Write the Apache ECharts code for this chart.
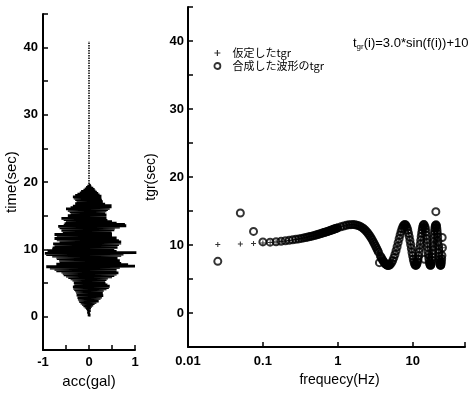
<!DOCTYPE html>
<html><head><meta charset="utf-8">
<script src="https://cdn.jsdelivr.net/npm/echarts@6/dist/echarts.min.js"></script>
<style>html,body{margin:0;padding:0;background:#fff}#c{width:468px;height:394px}</style>
</head><body><div id="c"></div>
<script>
// Left panel: synthesized acceleration (acc in gal vs time in sec)
const accTime = [0,0.1,0.2,0.3,0.4,0.5,0.6,0.7,0.8,0.9,1,1.1,1.2,1.3,1.4,1.5,1.6,1.7,1.8,1.9,
2,2.1,2.2,2.3,2.4,2.5,2.6,2.7,2.8,2.9,3,3.1,3.2,3.3,3.4,3.5,3.6,3.7,3.8,3.9,
4,4.1,4.2,4.3,4.4,4.5,4.6,4.7,4.8,4.9,5,5.1,5.2,5.3,5.4,5.5,5.6,5.7,5.8,5.9,
6,6.1,6.2,6.3,6.4,6.5,6.6,6.7,6.8,6.9,7,7.1,7.2,7.3,7.4,7.5,7.6,7.7,7.8,7.9,
8,8.1,8.2,8.3,8.4,8.5,8.6,8.7,8.8,8.9,9,9.1,9.2,9.3,9.4,9.5,9.6,9.7,9.8,9.9,
10,10.1,10.2,10.3,10.4,10.5,10.6,10.7,10.8,10.9,11,11.1,11.2,11.3,11.4,11.5,11.6,11.7,11.8,11.9,
12,12.1,12.2,12.3,12.4,12.5,12.6,12.7,12.8,12.9,13,13.1,13.2,13.3,13.4,13.5,13.6,13.7,13.8,13.9,
14,14.1,14.2,14.3,14.4,14.5,14.6,14.7,14.8,14.9,15,15.1,15.2,15.3,15.4,15.5,15.6,15.7,15.8,15.9,
16,16.1,16.2,16.3,16.4,16.5,16.6,16.7,16.8,16.9,17,17.1,17.2,17.3,17.4,17.5,17.6,17.7,17.8,17.9,
18,18.1,18.2,18.3,18.4,18.5,18.6,18.7,18.8,18.9,19,19.1,19.2,19.3,19.4,19.5,19.6,19.7];
const accValue = [0,0,-0.005,0.005,-0.01,0.01,-0.015,0.015,-0.02,0.02,
-0.04,0.03,-0.06,0.04,-0.09,0.06,-0.12,0.09,-0.15,0.12,
-0.18,0.16,-0.21,0.21,-0.22,0.2,-0.24,0.25,-0.25,0.28,
-0.25,0.31,-0.27,0.27,-0.26,0.3,-0.28,0.28,-0.3,0.32,
-0.32,0.38,-0.34,0.43,-0.35,0.45,-0.3,0.4,-0.32,0.36,
-0.33,0.35,-0.33,0.35,-0.36,0.38,-0.4,0.41,-0.45,0.5,
-0.5,0.55,-0.55,0.6,-0.57,0.64,-0.6,0.6,-0.71,0.56,
-0.75,0.6,-0.85,0.67,-0.93,1.0,-0.7,0.85,-0.71,0.7,
-0.6,0.67,-0.64,0.67,-0.65,0.6,-0.7,0.62,-0.71,0.6,
-0.8,0.7,-0.93,0.75,-0.96,1.03,-0.85,0.6,-0.9,0.5,
-0.8,0.55,-0.79,0.62,-0.75,0.6,-0.7,0.65,-0.78,0.7,
-0.64,0.7,-0.6,0.65,-0.7,0.55,-0.75,0.6,-0.7,0.5,
-0.6,0.45,-0.75,0.5,-0.57,0.49,-0.55,0.45,-0.6,0.55,
-0.6,0.56,-0.64,0.67,-0.67,0.81,-0.55,0.78,-0.53,0.6,
-0.5,0.5,-0.45,0.4,-0.55,0.38,-0.6,0.38,-0.45,0.36,
-0.46,0.38,-0.4,0.35,-0.4,0.35,-0.42,0.38,-0.46,0.41,
-0.5,0.45,-0.4,0.49,-0.35,0.49,-0.3,0.35,-0.3,0.3,
-0.27,0.3,-0.27,0.28,-0.3,0.25,-0.33,0.27,-0.35,0.27,
-0.3,0.23,-0.25,0.2,-0.2,0.17,-0.17,0.14,-0.12,0.12,
-0.09,0.09,-0.06,0.05,-0.03,0.03,-0.01,0.01];
const tailTime = [19.7, 25, 30, 35, 40.96];
const tailValue = [0, 0, 0, 0, 0];

// Right panel: group delay time tgr (sec) vs frequency (Hz)
const freq = [0.025,0.05,0.075,0.1,0.125,0.15,0.175,0.2,0.225,0.25,0.275,0.3,0.325,0.35,0.375,0.4,0.425,0.45,0.475,0.5,
0.525,0.55,0.575,0.6,0.625,0.65,0.675,0.7,0.725,0.75,0.775,0.8,0.825,0.85,0.875,0.9,0.925,0.95,0.975,1.0,
1.1,1.2,1.3,1.4,1.5,1.6,1.7,1.8,1.9,2.0,2.1,2.2,2.3,2.4,2.5,2.6,2.7,2.8,2.9,3.0,
3.1,3.2,3.3,3.4,3.5,3.6,3.7,3.8,3.9,4.0,4.1,4.2,4.3,4.4,4.5,4.6,4.7,4.8,4.9,5.0,
5.2,5.4,5.6,5.8,6.0,6.2,6.4,6.6,6.8,7.0,7.2,7.4,7.6,7.8,8.0,8.2,8.4,8.6,8.8,9.0,
9.2,9.4,9.6,9.8,10.0,10.2,10.4,10.6,10.8,11.0,11.2,11.4,11.6,11.8,12.0,12.2,12.4,12.6,12.8,13.0,
13.2,13.4,13.6,13.8,14.0,14.2,14.4,14.6,14.8,15.0,15.2,15.4,15.6,15.8,16.0,16.2,16.4,16.6,16.8,17.0,
17.2,17.4,17.6,17.8,18.0,18.2,18.4,18.6,18.8,19.0,19.2,19.4,19.6,19.8,20.0,20.2,20.4,20.6,20.8,21.0,
21.2,21.4,21.6,21.8,22.0,22.2,22.4,22.6,22.8,23.0,23.2,23.4,23.6,23.8,24.0,24.2,24.4,24.6,24.8,25.0];
const tgrAssumed = [10.08,10.15,10.22,10.30,10.37,10.45,10.52,10.60,10.67,10.74,10.81,10.89,10.96,11.03,11.10,11.17,11.24,11.30,11.37,11.44,
11.50,11.57,11.63,11.69,11.76,11.82,11.88,11.93,11.99,12.04,12.10,12.15,12.20,12.25,12.30,12.35,12.40,12.44,12.48,12.52,
12.67,12.80,12.89,12.96,12.99,13.00,12.98,12.92,12.84,12.73,12.59,12.43,12.24,12.03,11.80,11.55,11.28,11.01,10.72,10.42,
10.12,9.82,9.53,9.23,8.95,8.67,8.41,8.16,7.94,7.73,7.55,7.39,7.25,7.15,7.07,7.02,7.00,7.01,7.05,7.12,
7.35,7.68,8.11,8.61,9.16,9.75,10.35,10.93,11.48,11.97,12.38,12.70,12.90,13.00,12.97,12.82,12.56,12.20,11.75,11.24,
10.67,10.07,9.48,8.90,8.37,7.90,7.52,7.23,7.06,7.00,7.06,7.24,7.53,7.92,8.39,8.93,9.50,10.10,10.69,11.26,
11.78,12.22,12.58,12.83,12.97,13.00,12.90,12.70,12.40,11.95,11.44,10.89,10.29,9.69,9.14,8.58,8.09,7.67,7.34,7.12,
7.01,7.02,7.14,7.40,7.75,8.18,8.69,9.24,9.83,10.45,11.03,11.57,12.05,12.45,12.74,12.92,13.00,12.96,12.82,12.51,
12.14,11.68,11.16,10.57,9.97,9.38,8.81,8.29,7.84,7.46,7.20,7.05,7.00,7.06,7.28,7.58,7.98,8.47,9.00,9.60];
const tgrSynth = [7.6,14.7,12.0,10.45,10.42,10.48,10.54,10.62,10.69,10.76,10.83,10.9,10.97,11.04,11.1,11.17,11.24,11.3,11.37,11.44,
11.50,11.57,11.63,11.69,11.76,11.82,11.88,11.93,11.99,12.04,12.10,12.15,12.20,12.25,12.30,12.35,12.40,12.44,12.48,12.52,
12.67,12.80,12.89,12.96,12.99,13.00,12.98,12.92,12.84,12.73,12.59,12.43,12.24,12.03,11.80,11.55,11.28,11.01,10.72,10.42,
10.12,9.82,9.53,9.23,8.95,7.4,8.41,8.16,7.94,7.73,7.55,7.39,7.25,7.15,7.07,7.02,7.00,7.01,7.05,7.12,
7.35,7.68,8.11,8.61,9.16,9.75,10.35,10.93,11.48,11.97,12.38,12.70,12.90,13.00,12.97,12.82,12.56,12.20,11.75,11.24,
10.67,10.07,9.48,8.90,8.37,7.90,7.52,7.23,7.06,7.00,7.06,7.24,7.53,7.92,8.39,8.93,9.50,10.10,10.69,11.26,
11.78,12.22,12.58,12.83,12.97,13.00,7.9,12.70,12.40,11.95,11.44,10.89,10.29,9.69,9.14,8.58,8.09,7.67,7.34,7.12,
7.01,7.02,7.14,7.40,7.75,8.18,8.69,9.24,9.83,10.45,11.03,11.57,12.05,12.45,12.74,12.92,14.9,12.96,12.82,12.51,
12.14,11.68,11.16,10.57,9.97,9.38,8.81,8.29,7.84,7.46,7.20,7.05,7.00,7.06,7.28,7.58,7.98,8.47,11.1,9.60];

const nameAssumed = '仮定したtgr';
const nameSynth = '合成した波形のtgr';
const plusPath = 'path://M4,0H6V4H10V6H6V10H4V6H0V4H4Z';
const FONT = '"Liberation Sans", Arial, sans-serif';
const CJK = '"Noto Sans CJK JP", "Liberation Sans", sans-serif';

function axisCommon() {
  return {
    axisLine: { onZero: false, lineStyle: { color: '#000', width: 2 } },
    axisTick: { inside: true, length: 5, lineStyle: { color: '#000', width: 1.5 } },
    splitLine: { show: false },
    axisLabel: { color: '#000', fontSize: 13, fontWeight: 'bold', fontFamily: FONT },
    nameTextStyle: { color: '#000', fontSize: 14, fontFamily: FONT },
    nameLocation: 'middle'
  };
}

const chart = echarts.init(document.getElementById('c'), null, { renderer: 'canvas' });
const xl = axisCommon(), yl = axisCommon(), xr = axisCommon(), yr = axisCommon();

Object.assign(xl, { type: 'value', gridIndex: 0, min: -1, max: 1, interval: 0.5, name: 'acc(gal)', nameGap: 22 });
xl.axisLabel = Object.assign({}, xl.axisLabel, { margin: 6, formatter: v => Number.isInteger(v) ? String(v) : '' });
xl.nameTextStyle = Object.assign({}, xl.nameTextStyle, { fontSize: 15 });

Object.assign(yl, { type: 'value', gridIndex: 0, min: -5, max: 45, interval: 5, name: 'time(sec)', nameGap: 20, nameRotate: 90 });
yl.axisLabel = Object.assign({}, yl.axisLabel, { margin: 5, formatter: v => (v % 10 === 0) ? String(v) : '' });
yl.nameTextStyle = Object.assign({}, yl.nameTextStyle, { fontSize: 15 });

Object.assign(xr, { type: 'log', logBase: 10, gridIndex: 1, min: 0.01, max: 50, name: 'frequecy(Hz)', nameGap: 25 });
xr.axisLabel = Object.assign({}, xr.axisLabel, { margin: 8, formatter: v => {
  const l = Math.log10(v); return Math.abs(l - Math.round(l)) < 1e-6 ? String(+v.toPrecision(3)) : '';
} });
xr.nameTextStyle = Object.assign({}, xr.nameTextStyle, { padding: [0, 0, 0, 26] });

Object.assign(yr, { type: 'value', gridIndex: 1, min: -5, max: 45, interval: 5, name: 'tgr(sec)', nameGap: 30, nameRotate: 90 });
yr.axisLabel = Object.assign({}, yr.axisLabel, { margin: 4, formatter: v => (v % 10 === 0) ? String(v) : '' });

chart.setOption({
  animation: false,
  backgroundColor: '#fff',
  grid: [
    { left: 43, top: 14, width: 92, height: 342 },
    { left: 188, top: 7, right: 0, height: 340 }
  ],
  xAxis: [xl, xr],
  yAxis: [yl, yr],
  legend: {
    orient: 'vertical', left: 213.5, top: 47.5, padding: 0, itemGap: 2,
    itemWidth: 6, itemHeight: 6,
    textStyle: { fontSize: 11, color: '#000', fontFamily: CJK, padding: [0, 0, 0, 7] },
    data: [
      { name: nameAssumed, icon: plusPath, itemStyle: { color: '#000', borderWidth: 0 } },
      { name: nameSynth, icon: 'circle', itemStyle: { color: 'rgba(0,0,0,0)', borderColor: '#000', borderWidth: 1.8 } }
    ]
  },
  graphic: [{
    type: 'text', left: 353, top: 37,
    style: {
      text: 't{s|gr}(i)=3.0*sin(f(i))+10',
      fill: '#000', fontSize: 13, fontFamily: FONT,
      rich: { s: { fontSize: 8, fontFamily: FONT, fill: '#000', padding: [6, 0, 0, 0] } }
    }
  }],
  series: [
    {
      type: 'line', xAxisIndex: 0, yAxisIndex: 0, showSymbol: false, silent: true,
      data: accTime.map((t, i) => [accValue[i], t]),
      lineStyle: { color: '#000', width: 2.8 }
    },
    {
      type: 'line', xAxisIndex: 0, yAxisIndex: 0, showSymbol: false, silent: true,
      data: tailTime.map((t, i) => [tailValue[i], t]),
      lineStyle: { color: '#000', width: 1.5, type: [1.5, 1] }
    },
    {
      name: nameAssumed, type: 'scatter', xAxisIndex: 1, yAxisIndex: 1,
      symbol: plusPath, symbolSize: 5,
      itemStyle: { color: '#000' },
      data: freq.map((f, i) => [f, tgrAssumed[i]])
    },
    {
      name: nameSynth, type: 'scatter', xAxisIndex: 1, yAxisIndex: 1,
      symbol: 'circle', symbolSize: 7,
      itemStyle: { color: 'rgba(0,0,0,0)', borderColor: '#000', borderWidth: 2 },
      data: freq.map((f, i) => [f, tgrSynth[i]])
    }
  ]
});
</script></body></html>
